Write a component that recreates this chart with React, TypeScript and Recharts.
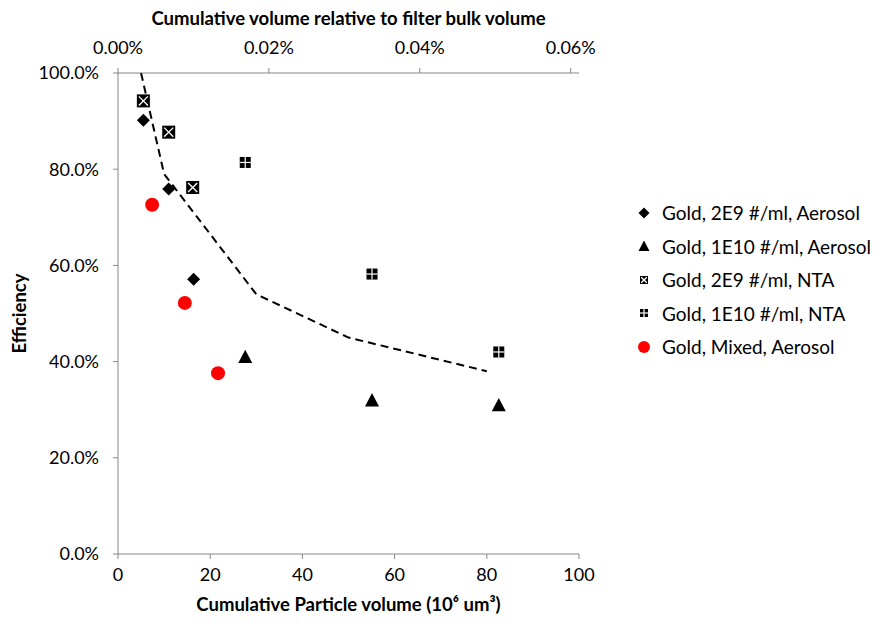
import { Label, Scatter, ScatterChart, XAxis, YAxis } from "recharts";

const FONT = "Lato, 'Open Sans', sans-serif";
const AXIS_GRAY = "#868686";

// tick values
const bottomTicks = [0, 20, 40, 60, 80, 100];
const topTicks = [0, 0.0002, 0.0004, 0.0006];
const yTicks = [0, 0.2, 0.4, 0.6, 0.8, 1.0];

// series (x = cumulative particle volume, y = efficiency)
const gold2e9Aerosol = [
  { x: 5.5, y: 0.902 },
  { x: 11.0, y: 0.759 },
  { x: 16.4, y: 0.571 },
];
const gold1e10Aerosol = [
  { x: 27.6, y: 0.41 },
  { x: 55.1, y: 0.32 },
  { x: 82.6, y: 0.31 },
];
const gold2e9Nta = [
  { x: 5.5, y: 0.942 },
  { x: 11.0, y: 0.877 },
  { x: 16.2, y: 0.762 },
];
const gold1e10Nta = [
  { x: 27.6, y: 0.814 },
  { x: 55.1, y: 0.582 },
  { x: 82.6, y: 0.42 },
];
const goldMixedAerosol = [
  { x: 7.4, y: 0.726 },
  { x: 14.5, y: 0.522 },
  { x: 21.7, y: 0.376 },
];
const fitCurve = [
  { x: 5, y: 1.0 },
  { x: 10, y: 0.79 },
  { x: 30, y: 0.54 },
  { x: 50, y: 0.45 },
  { x: 80, y: 0.38 },
];

type MarkerProps = { cx?: number; cy?: number; s?: number };

function Diamond({ cx = 0, cy = 0, s = 6.5 }: MarkerProps) {
  return (
    <polygon
      points={`${cx},${cy - s} ${cx + s},${cy} ${cx},${cy + s} ${cx - s},${cy}`}
      fill="#000"
    />
  );
}

function Triangle({ cx = 0, cy = 0, s = 7 }: MarkerProps) {
  return (
    <polygon
      points={`${cx},${cy - s} ${cx + s},${cy + s * 0.9} ${cx - s},${cy + s * 0.9}`}
      fill="#000"
    />
  );
}

function XBox({ cx = 0, cy = 0, s = 6.5 }: MarkerProps) {
  const i = s * 0.7;
  return (
    <g>
      <rect x={cx - s} y={cy - s} width={s * 2} height={s * 2} fill="#000" />
      <line x1={cx - i} y1={cy - i} x2={cx + i} y2={cy + i} stroke="#fff" strokeWidth={1.3} />
      <line x1={cx - i} y1={cy + i} x2={cx + i} y2={cy - i} stroke="#fff" strokeWidth={1.3} />
    </g>
  );
}

function PlusBox({ cx = 0, cy = 0, s = 5.5 }: MarkerProps) {
  return (
    <g>
      <rect x={cx - s} y={cy - s} width={s * 2} height={s * 2} fill="#000" />
      <line x1={cx - s} y1={cy} x2={cx + s} y2={cy} stroke="#fff" strokeWidth={1.2} />
      <line x1={cx} y1={cy - s} x2={cx} y2={cy + s} stroke="#fff" strokeWidth={1.2} />
    </g>
  );
}

function RedDot({ cx = 0, cy = 0, s = 7 }: MarkerProps) {
  return <circle cx={cx} cy={cy} r={s} fill="#ff0000" />;
}

const legendItems = [
  { name: "Gold, 2E9 #/ml, Aerosol", marker: <Diamond cx={8} cy={8} s={5.5} /> },
  { name: "Gold, 1E10 #/ml, Aerosol", marker: <Triangle cx={8} cy={8} s={5.5} /> },
  { name: "Gold, 2E9 #/ml, NTA", marker: <XBox cx={8} cy={8} s={4} /> },
  { name: "Gold, 1E10 #/ml, NTA", marker: <PlusBox cx={8} cy={8} s={4} /> },
  { name: "Gold, Mixed, Aerosol", marker: <RedDot cx={8} cy={8} s={6} /> },
];

const tickStyle = { fill: "#000", fontSize: 18, fontFamily: FONT };
const titleStyle = { fill: "#000", fontSize: 18.5, fontWeight: 700, fontFamily: FONT };

export default function App() {
  return (
    <div style={{ position: "relative", width: 865, height: 612, fontFamily: FONT }}>
      <ScatterChart width={865} height={612} margin={{ top: 0, right: 294, bottom: 6, left: 0 }}>
        <XAxis
          xAxisId="bottom"
          dataKey="x"
          type="number"
          orientation="bottom"
          domain={[0, 100]}
          ticks={bottomTicks}
          height={60}
          tick={tickStyle}
          tickSize={5}
          tickMargin={9}
          axisLine={{ stroke: AXIS_GRAY }}
          tickLine={{ stroke: AXIS_GRAY }}
        >
          <Label
            value="Cumulative Particle volume (10⁶ um³)"
            position="insideBottom"
            offset={3}
            style={titleStyle}
          />
        </XAxis>
        <XAxis
          xAxisId="top"
          dataKey="x"
          type="number"
          orientation="top"
          domain={[0, 0.000611]}
          ticks={topTicks}
          allowDataOverflow
          height={65}
          tick={tickStyle}
          tickSize={5}
          tickMargin={14}
          tickFormatter={(v: number) => `${(v * 100).toFixed(2)}%`}
          axisLine={{ stroke: AXIS_GRAY }}
          tickLine={{ stroke: AXIS_GRAY }}
        >
          <Label
            value="Cumulative volume relative to filter bulk volume"
            position="insideTop"
            offset={4}
            style={titleStyle}
          />
        </XAxis>
        <YAxis
          dataKey="y"
          type="number"
          domain={[0, 1]}
          ticks={yTicks}
          width={110}
          tick={tickStyle}
          tickSize={5}
          tickMargin={14}
          tickFormatter={(v: number) => `${(v * 100).toFixed(1)}%`}
          axisLine={{ stroke: AXIS_GRAY }}
          tickLine={{ stroke: AXIS_GRAY }}
        >
          <Label
            value="Efficiency"
            angle={-90}
            position="insideLeft"
            offset={11}
            style={{ ...titleStyle, textAnchor: "middle" }}
          />
        </YAxis>
        {/* empty series so the secondary (top) axis gets drawn */}
        <Scatter xAxisId="top" data={[]} shape={() => <g />} legendType="none" isAnimationActive={false} />
        <Scatter
          xAxisId="bottom"
          data={fitCurve}
          line={{ stroke: "#000", strokeWidth: 2, strokeDasharray: "8 5" }}
          lineType="joint"
          shape={() => <g />}
          legendType="none"
          isAnimationActive={false}
        />
        <Scatter
          xAxisId="bottom"
          name="Gold, 2E9 #/ml, Aerosol"
          data={gold2e9Aerosol}
          shape={(p: any) => <Diamond cx={p.cx} cy={p.cy} />}
          isAnimationActive={false}
        />
        <Scatter
          xAxisId="bottom"
          name="Gold, 1E10 #/ml, Aerosol"
          data={gold1e10Aerosol}
          shape={(p: any) => <Triangle cx={p.cx} cy={p.cy} />}
          isAnimationActive={false}
        />
        <Scatter
          xAxisId="bottom"
          name="Gold, 2E9 #/ml, NTA"
          data={gold2e9Nta}
          shape={(p: any) => <XBox cx={p.cx} cy={p.cy} />}
          isAnimationActive={false}
        />
        <Scatter
          xAxisId="bottom"
          name="Gold, 1E10 #/ml, NTA"
          data={gold1e10Nta}
          shape={(p: any) => <PlusBox cx={p.cx} cy={p.cy} />}
          isAnimationActive={false}
        />
        <Scatter
          xAxisId="bottom"
          name="Gold, Mixed, Aerosol"
          data={goldMixedAerosol}
          shape={(p: any) => <RedDot cx={p.cx} cy={p.cy} />}
          isAnimationActive={false}
        />
      </ScatterChart>
      <div
        style={{
          position: "absolute",
          left: 628,
          top: 188,
          fontSize: 19,
          color: "#000",
        }}
      >
        {legendItems.map((item) => (
          <div
            key={item.name}
            style={{ display: "flex", alignItems: "center", height: 33.5, whiteSpace: "nowrap" }}
          >
            <svg width={16} height={16} style={{ marginRight: 10 }}>
              {item.marker}
            </svg>
            <span>{item.name}</span>
          </div>
        ))}
      </div>
    </div>
  );
}
